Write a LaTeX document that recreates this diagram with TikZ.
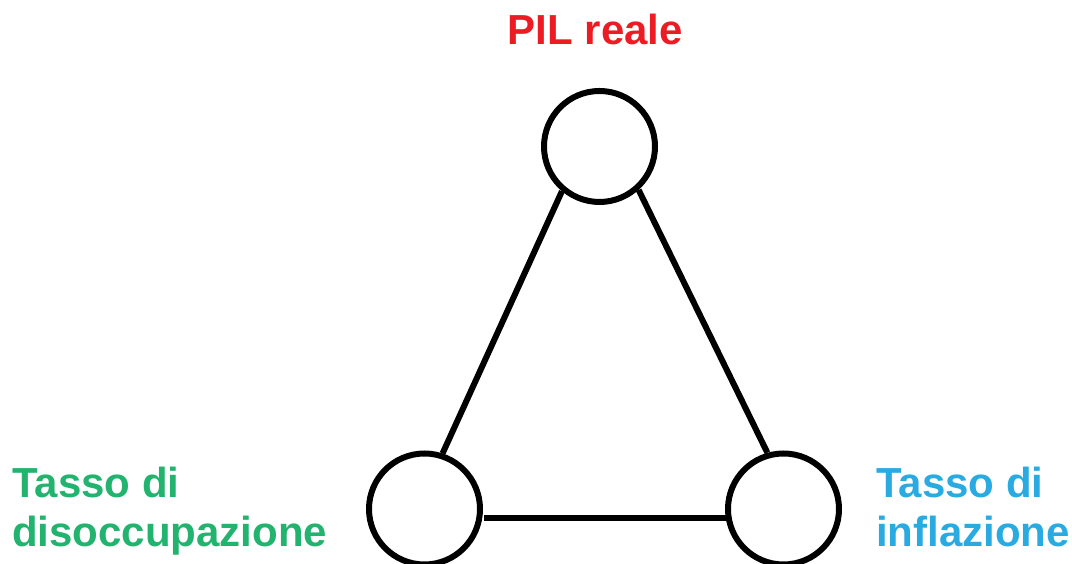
\documentclass[tikz,border=0pt]{standalone}
\usepackage{fontspec}
\setmainfont{Liberation Sans}
\definecolor{pilred}{HTML}{ED1C24}
\definecolor{disgreen}{HTML}{22B36E}
\definecolor{infblue}{HTML}{29ABE2}
\begin{document}
\begin{tikzpicture}[x=1pt,y=1pt,
  bubble/.style={circle,draw=black,line width=6pt,minimum size=111pt,inner sep=0pt,fill=white},
  link/.style={draw=black,line width=6pt},
  lbl/.style={font=\fontsize{42}{49}\selectfont\bfseries,inner sep=0pt,align=left}]
\useasboundingbox (0,0) rectangle (1072,564);
\node[bubble] (pil) at (599.5,417.5) {};
\node[bubble] (dis) at (424.5,55) {};
\node[bubble] (inf) at (783.5,55) {};
\draw[link] (pil.230.5) -- (dis.72);
\draw[link] (pil.312.5) -- (inf.106.8);
\draw[link] ([xshift=2pt]dis.-9.4) -- (inf.189.7);
\node[lbl,text=pilred,anchor=base] (tpil) at (595.5,519) {PIL reale};
\node[lbl,text=disgreen,anchor=base west] (tdis) at (12,17) {Tasso di\\disoccupazione};
\node[lbl,text=infblue,anchor=base west] (tinf) at (876,17) {Tasso di\\inflazione};
\end{tikzpicture}
\end{document}
